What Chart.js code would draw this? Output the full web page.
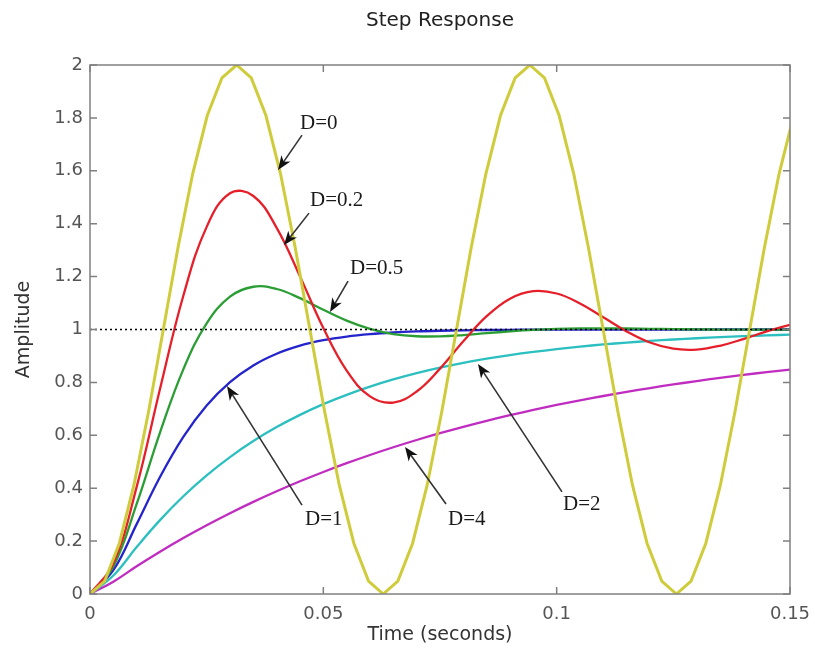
<!DOCTYPE html>
<html>
<head>
<meta charset="utf-8">
<title>Step Response</title>
<script src="https://cdn.jsdelivr.net/npm/chart.js@4.4.1/dist/chart.umd.min.js"></script>
<style>
  html, body { margin: 0; padding: 0; background: #fff; }
</style>
</head>
<body>
<canvas id="grafik" width="815" height="651"></canvas>
<script>
// Waktu (detik) untuk kurva halus
const waktu = [0, 0.005, 0.01, 0.015, 0.02, 0.025, 0.03, 0.035, 0.04, 0.045, 0.05,
  0.055, 0.06, 0.065, 0.07, 0.075, 0.08, 0.085, 0.09, 0.095, 0.1,
  0.105, 0.11, 0.115, 0.12, 0.125, 0.13, 0.135, 0.14, 0.145, 0.15];

// Respons tiap redaman D
const respD02 = [0, 0.1147, 0.405, 0.7748, 1.1275, 1.388, 1.5151, 1.5049, 1.3845, 1.2008, 1.0055,
  0.8446, 0.7473, 0.7237, 0.7657, 0.8521, 0.9556, 1.0503, 1.1166, 1.145, 1.1361,
  1.0986, 1.046, 0.9928, 0.9508, 0.9273, 0.9242, 0.9385, 0.9639, 0.9926, 1.0178];
const respD05 = [0, 0.1044, 0.3403, 0.6104, 0.8494, 1.0233, 1.1243, 1.1616, 1.1531, 1.1185, 1.0746,
  1.0336, 1.0023, 0.9829, 0.9744, 0.9742, 0.979, 0.986, 0.9929, 0.9985, 1.0022,
  1.004, 1.0043, 1.0037, 1.0026, 1.0014, 1.0004, 0.9998, 0.9994, 0.9993, 0.9994];
const respD1 = [0, 0.0902, 0.2642, 0.4422, 0.594, 0.7127, 0.8009, 0.8641, 0.9084, 0.9389, 0.9596,
  0.9734, 0.9826, 0.9887, 0.9927, 0.9953, 0.997, 0.9981, 0.9988, 0.9992, 0.9995,
  0.9997, 0.9998, 0.9999, 0.9999, 1, 1, 1, 1, 1, 1];
const respD2 = [0, 0.0697, 0.1777, 0.2794, 0.3696, 0.4486, 0.5177, 0.5782, 0.631, 0.6773, 0.7178,
  0.7531, 0.7841, 0.8112, 0.8348, 0.8555, 0.8737, 0.8895, 0.9034, 0.9155, 0.9261,
  0.9353, 0.9434, 0.9505, 0.9567, 0.9622, 0.9669, 0.9711, 0.9747, 0.9779, 0.9806];
const respD4 = [0, 0.0465, 0.1048, 0.1599, 0.2116, 0.2601, 0.3056, 0.3484, 0.3885, 0.4261, 0.4614,
  0.4945, 0.5256, 0.5548, 0.5822, 0.6079, 0.632, 0.6547, 0.6759, 0.6959, 0.7146,
  0.7321, 0.7486, 0.7641, 0.7786, 0.7922, 0.805, 0.817, 0.8283, 0.8388, 0.8487];

// D=0 disampel lebih kasar (terlihat patah-patah di gambar)
const waktuD0 = [0, 0.00314, 0.00628, 0.00942, 0.01257, 0.01571, 0.01885, 0.02199, 0.02513, 0.02827,
  0.03142, 0.03456, 0.0377, 0.04084, 0.04398, 0.04712, 0.05027, 0.05341, 0.05655, 0.05969,
  0.06283, 0.06597, 0.06912, 0.07226, 0.0754, 0.07854, 0.08168, 0.08482, 0.08796, 0.0911,
  0.09425, 0.09739, 0.10053, 0.10367, 0.10681, 0.10996, 0.1131, 0.11624, 0.11938, 0.12252,
  0.12566, 0.1288, 0.13195, 0.13509, 0.13823, 0.14137, 0.14451, 0.14765, 0.1508];
const respD0 = [0, 0.0489, 0.191, 0.4122, 0.691, 1, 1.309, 1.5878, 1.809, 1.9511,
  2, 1.9511, 1.809, 1.5878, 1.309, 1, 0.691, 0.4122, 0.191, 0.0489,
  0, 0.0489, 0.191, 0.4122, 0.691, 1, 1.309, 1.5878, 1.809, 1.9511,
  2, 1.9511, 1.809, 1.5878, 1.309, 1, 0.691, 0.4122, 0.191, 0.0489,
  0, 0.0489, 0.191, 0.4122, 0.691, 1, 1.309, 1.5878, 1.809];

// Garis acuan nilai akhir
const waktuAcuan = [0, 0.15];
const nilaiAcuan = [1, 1];

// Tick sumbu
const xTicks = [0, 0.05, 0.1, 0.15];
const yTicks = [0, 0.2, 0.4, 0.6, 0.8, 1, 1.2, 1.4, 1.6, 1.8, 2];

// Label panah: posisi teks, pangkal dan ujung panah (koordinat data)
const labelTeks = ["D=0", "D=0.2", "D=0.5", "D=1", "D=4", "D=2"];
const labelPos = [[0.045, 1.777], [0.04714, 1.486], [0.05571, 1.229], [0.04607, 0.28], [0.07671, 0.28], [0.10136, 0.34]];
const panahDari = [[0.04543, 1.735], [0.04693, 1.44], [0.05529, 1.183], [0.04543, 0.336], [0.07629, 0.34], [0.10114, 0.386]];
const panahKe = [[0.04029, 1.603], [0.04157, 1.319], [0.05143, 1.066], [0.02936, 0.786], [0.0675, 0.556], [0.08314, 0.87]];

const titik = (xs, ys) => xs.map((x, i) => ({ x, y: ys[i] }));
const fmt = v => String(+v.toFixed(3));

function seri(label, xs, ys, color, width, extra) {
  return Object.assign({
    label, data: titik(xs, ys), borderColor: color, borderWidth: width,
    showLine: true, pointRadius: 0, fill: false, tension: 0.4, clip: 0
  }, extra || {});
}

// Plugin bingkai, tick ke dalam, dan label panah
const bingkaiPlugin = {
  id: "bingkai",
  afterDatasetsDraw(chart) {
    const { ctx, chartArea: a, scales: { x, y } } = chart;
    ctx.save();
    ctx.strokeStyle = "#808080";
    ctx.lineWidth = 1.5;
    ctx.strokeRect(a.left, a.top, a.right - a.left, a.bottom - a.top);
    ctx.beginPath();
    xTicks.forEach(v => {
      const px = x.getPixelForValue(v);
      ctx.moveTo(px, a.bottom); ctx.lineTo(px, a.bottom - 7);
      ctx.moveTo(px, a.top); ctx.lineTo(px, a.top + 7);
    });
    yTicks.forEach(v => {
      const py = y.getPixelForValue(v);
      ctx.moveTo(a.left, py); ctx.lineTo(a.left + 7, py);
      ctx.moveTo(a.right, py); ctx.lineTo(a.right - 7, py);
    });
    ctx.stroke();

    ctx.font = '21px "Liberation Serif", "Times New Roman", serif';
    ctx.textBaseline = "middle";
    ctx.textAlign = "left";
    labelTeks.forEach((t, i) => {
      ctx.fillStyle = "#1a1a1a";
      ctx.fillText(t, x.getPixelForValue(labelPos[i][0]), y.getPixelForValue(labelPos[i][1]));
      const fx = x.getPixelForValue(panahDari[i][0]), fy = y.getPixelForValue(panahDari[i][1]);
      const tx = x.getPixelForValue(panahKe[i][0]), ty = y.getPixelForValue(panahKe[i][1]);
      const ang = Math.atan2(ty - fy, tx - fx);
      ctx.strokeStyle = "#333";
      ctx.lineWidth = 1.6;
      ctx.beginPath();
      ctx.moveTo(fx, fy);
      ctx.lineTo(tx - Math.cos(ang) * 8, ty - Math.sin(ang) * 8);
      ctx.stroke();
      ctx.fillStyle = "#111";
      ctx.beginPath();
      ctx.moveTo(tx, ty);
      ctx.lineTo(tx - Math.cos(ang) * 14 + Math.sin(ang) * 5.5, ty - Math.sin(ang) * 14 - Math.cos(ang) * 5.5);
      ctx.lineTo(tx - Math.cos(ang) * 10, ty - Math.sin(ang) * 10);
      ctx.lineTo(tx - Math.cos(ang) * 14 - Math.sin(ang) * 5.5, ty - Math.sin(ang) * 14 + Math.cos(ang) * 5.5);
      ctx.closePath();
      ctx.fill();
    });
    ctx.restore();
  }
};

const sans = '"DejaVu Sans", Verdana, sans-serif';

const ctx = document.getElementById("grafik").getContext("2d");
new Chart(ctx, {
  type: "scatter",
  data: {
    datasets: [
      seri("acuan", waktuAcuan, nilaiAcuan, "#000", 1.3, { borderDash: [2, 3], tension: 0 }),
      seri("D=0", waktuD0, respD0, "#cfcc3c", 3, { tension: 0 }),
      seri("D=0.2", waktu, respD02, "#e5202a", 2.3),
      seri("D=0.5", waktu, respD05, "#2a9e34", 2.3),
      seri("D=1", waktu, respD1, "#2424cc", 2.3),
      seri("D=2", waktu, respD2, "#2bbfbf", 2.3),
      seri("D=4", waktu, respD4, "#c02cc0", 2.3)
    ]
  },
  options: {
    responsive: false,
    animation: false,
    devicePixelRatio: 1,
    layout: { padding: { left: 0, right: 25, top: 0, bottom: 0 } },
    plugins: {
      legend: { display: false },
      tooltip: { enabled: false },
      title: {
        display: true, fullSize: false, text: "Step Response", color: "#222",
        font: { family: sans, size: 20, weight: "normal" },
        padding: { top: 9, bottom: 32 }
      }
    },
    scales: {
      x: {
        type: "linear", min: 0, max: 0.15,
        afterBuildTicks: s => { s.ticks = xTicks.map(v => ({ value: v })); },
        afterFit: s => { s.height = 57; s.paddingRight = 0; s.paddingLeft = 0; },
        grid: { display: false, drawTicks: false },
        border: { display: false },
        ticks: { color: "#555", font: { family: sans, size: 18 }, padding: 10, maxRotation: 0, callback: fmt },
        title: { display: true, text: "Time (seconds)", color: "#333", font: { family: sans, size: 19 }, padding: { top: 0, bottom: 5 } }
      },
      y: {
        type: "linear", min: 0, max: 2,
        afterBuildTicks: s => { s.ticks = yTicks.map(v => ({ value: v })); },
        afterFit: s => { s.width = 90; },
        grid: { display: false, drawTicks: false },
        border: { display: false },
        ticks: { color: "#555", font: { family: sans, size: 18 }, padding: 7, callback: fmt },
        title: { display: true, text: "Amplitude", color: "#333", font: { family: sans, size: 19 }, padding: { top: 13, bottom: 0 } }
      }
    }
  },
  plugins: [bingkaiPlugin]
});
</script>
</body>
</html>
